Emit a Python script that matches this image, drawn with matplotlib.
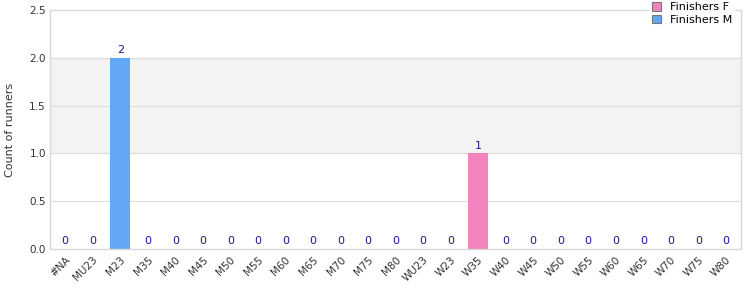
import numpy as np
import matplotlib
matplotlib.use('Agg')
import matplotlib.pyplot as plt

CATEGORIES = ['#NA', 'MU23', 'M23', 'M35', 'M40', 'M45', 'M50', 'M55', 'M60',
              'M65', 'M70', 'M75', 'M80', 'WU23', 'W23', 'W35', 'W40', 'W45',
              'W50', 'W55', 'W60', 'W65', 'W70', 'W75', 'W80']
FINISHERS_M = [0, 0, 2, 0, 0, 0, 0, 0, 0, 0, 0, 0, 0, 0, 0, 0, 0, 0, 0, 0, 0, 0, 0, 0, 0]
FINISHERS_F = [0, 0, 0, 0, 0, 0, 0, 0, 0, 0, 0, 0, 0, 0, 0, 1, 0, 0, 0, 0, 0, 0, 0, 0, 0]
Y_TICKS = [0.0, 0.5, 1.0, 1.5, 2.0, 2.5]

fig = plt.figure(figsize=(7.5, 3), dpi=100)
ax = fig.add_axes([50 / 750, 51 / 300, 691 / 750, 239 / 300])

x = np.arange(len(CATEGORIES))
m = np.array(FINISHERS_M)
f = np.array(FINISHERS_F)

# alternating bands
ax.axhspan(1.0, 2.0, color='#f3f3f3', zorder=0)
for t in Y_TICKS[1:-1]:
    ax.axhline(t, color='#dddddd', lw=0.8, zorder=1)

ax.bar(x, m, width=0.72, color='#63a8f4', label='Finishers M', zorder=2)
ax.bar(x, f, width=0.72, bottom=m, color='#f283bc', label='Finishers F', zorder=2)

total = m + f
for xi, t in zip(x, total):
    ax.text(xi, t + 0.03, str(t), ha='center', va='bottom', fontsize=8,
            color='#1a1a8c', zorder=3)

ax.set_xlim(-0.55, len(CATEGORIES) - 0.45)
ax.set_ylim(0, 2.5)
ax.set_yticks(Y_TICKS)
ax.set_yticklabels(['%.1f' % t for t in Y_TICKS])
ax.set_xticks(x)
ax.set_xticklabels(CATEGORIES, rotation=45, ha='right', rotation_mode='anchor')
ax.tick_params(axis='both', length=0, labelsize=7.5, colors='#333333', pad=3)
ax.tick_params(axis='x', pad=4)
ax.set_ylabel('Count of runners', fontsize=8, color='#333333', labelpad=10)

for s in ax.spines.values():
    s.set_color('#d8d8d8')
    s.set_linewidth(1)

handles, labels = ax.get_legend_handles_labels()
leg = fig.legend(handles[::-1], labels[::-1], loc='upper left',
                 bbox_to_anchor=(650 / 750, 1.0), frameon=True, fontsize=8,
                 handlelength=0.8, handleheight=0.8, borderpad=0.2,
                 labelspacing=0.2, handletextpad=0.8, borderaxespad=0)
leg.get_frame().set_edgecolor('white')
leg.get_frame().set_facecolor('white')
leg.get_frame().set_alpha(1)
for h in leg.legend_handles:
    h.set_edgecolor('#777777')
    h.set_linewidth(0.8)

fig.savefig('out.png', dpi=100)
